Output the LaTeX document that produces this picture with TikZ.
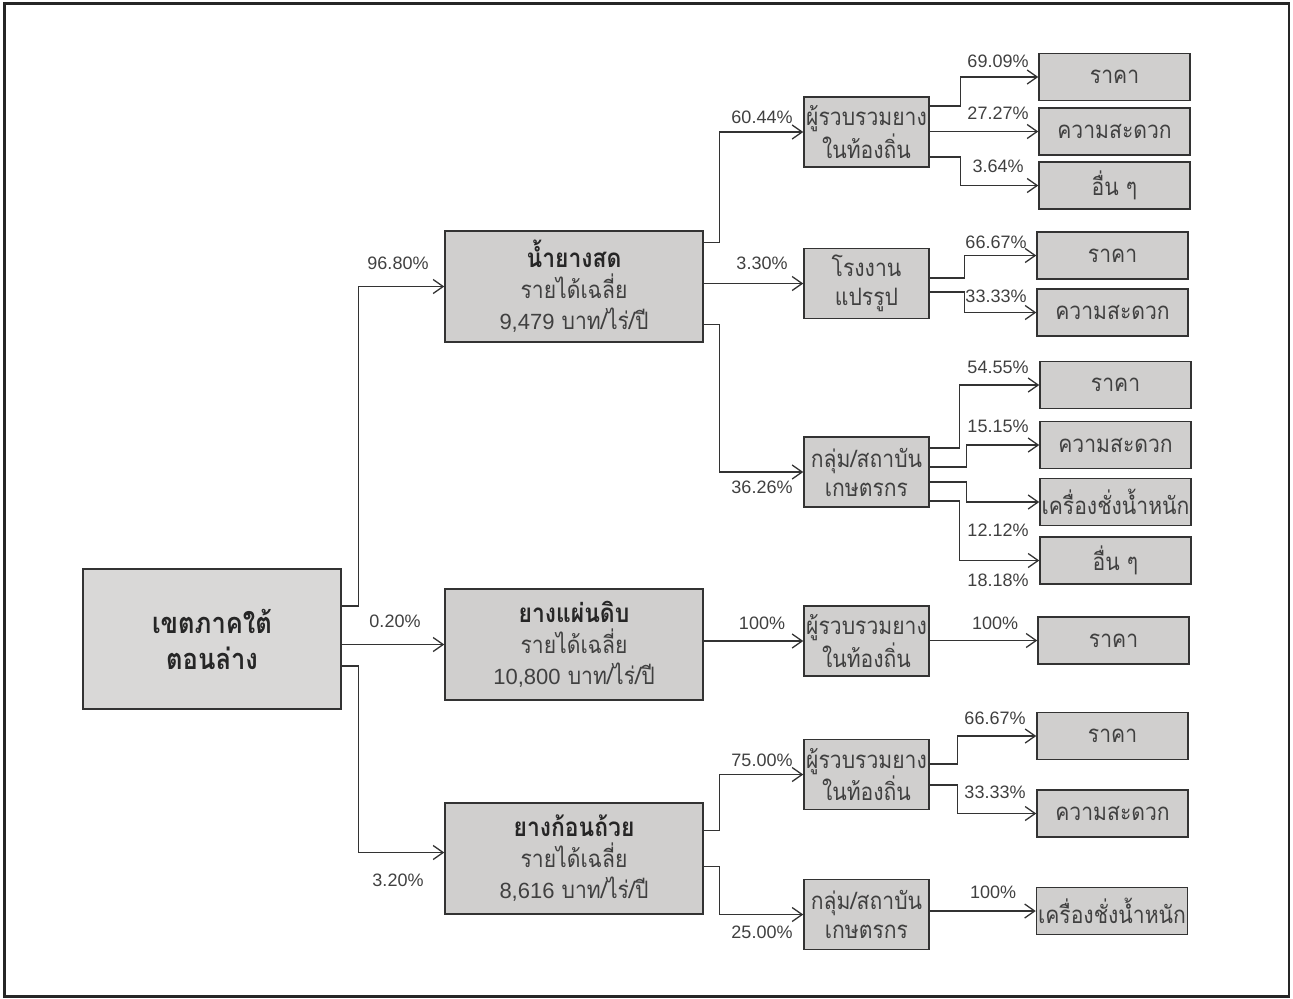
\documentclass[tikz,border=0pt]{standalone}
\usepackage{fontspec}
\setmainfont{Liberation Sans}
\newfontfamily\thaifont[Script=Thai,FakeStretch=0.88]{Loma}
\usetikzlibrary{arrows.meta}
\definecolor{boxfill}{RGB}{208,207,206}
\definecolor{rootfill}{RGB}{217,216,215}
\definecolor{linegray}{RGB}{51,51,51}
\definecolor{textgray}{RGB}{64,64,64}

\begin{document}
\begin{tikzpicture}[
	x=0.5pt, y=-0.5pt,
	box/.style={rectangle, draw=linegray, line width=0.75pt, fill=boxfill, text=textgray, inner sep=0pt, align=center, font=\thaifont\fontsize{12}{15.5}\selectfont},
	rootnode/.style={box, fill=rootfill, minimum width=129pt, minimum height=70pt, text=black!85, font=\thaifont\bfseries\fontsize{14.5}{18}\selectfont},
	typenode/.style={box, minimum width=129pt, minimum height=55.5pt},
	buyernode/.style={box, minimum width=62.5pt, minimum height=35pt, font=\thaifont\fontsize{12}{14.5}\selectfont},
	reasonnode/.style={box, minimum width=75.5pt, minimum height=23.5pt},
	pct/.style={text=textgray, inner sep=0pt, font=\fontsize{9}{11}\selectfont},
	flow/.style={draw=linegray, line width=0.65pt, -{Straight Barb[length=5pt,width=7pt]}},
	]
	\useasboundingbox (0,0) rectangle (1293,998);
	\draw[line width=1.25pt, draw=black!85] (4.5,3.5) rectangle (1289,996.5);

	%Nodes
	\node[rootnode]   (root)  at (212,639)     {เขตภาคใต้\\ตอนล่าง};
	\node[typenode]   (latex) at (574,286.5)   {{\bfseries\fontsize{13}{15.5}\selectfont\color{black!85}น้ำยางสด}\\รายได้เฉลี่ย\\{\rmfamily\fontsize{11}{15.5}\selectfont 9,479} บาท/ไร่/ปี};
	\node[typenode]   (sheet) at (574,644.5)   {{\bfseries\fontsize{13}{15.5}\selectfont\color{black!85}ยางแผ่นดิบ}\\รายได้เฉลี่ย\\{\rmfamily\fontsize{11}{15.5}\selectfont 10,800} บาท/ไร่/ปี};
	\node[typenode]   (cup)   at (574,858.5)   {{\bfseries\fontsize{13}{15.5}\selectfont\color{black!85}ยางก้อนถ้วย}\\รายได้เฉลี่ย\\{\rmfamily\fontsize{11}{15.5}\selectfont 8,616} บาท/ไร่/ปี};

	\node[buyernode]  (A1)    at (866.5,132)   {ผู้รวบรวมยาง\\ในท้องถิ่น};
	\node[buyernode]  (A2)    at (866.5,283.5) {โรงงาน\\แปรรูป};
	\node[buyernode]  (A3)    at (866.5,472)   {กลุ่ม/สถาบัน\\เกษตรกร};
	\node[buyernode]  (B1)    at (866.5,641)   {ผู้รวบรวมยาง\\ในท้องถิ่น};
	\node[buyernode]  (C1)    at (866.5,774.5) {ผู้รวบรวมยาง\\ในท้องถิ่น};
	\node[buyernode]  (C2)    at (866.5,914.5) {กลุ่ม/สถาบัน\\เกษตรกร};

	\node[reasonnode] (a1a)   at (1114.5,77)   {ราคา};
	\node[reasonnode] (a1b)   at (1114.5,131.5) {ความสะดวก};
	\node[reasonnode] (a1c)   at (1114.5,185.5) {อื่น ๆ};
	\node[reasonnode] (a2a)   at (1112.5,255.5) {ราคา};
	\node[reasonnode] (a2b)   at (1112.5,312.5) {ความสะดวก};
	\node[reasonnode] (a3a)   at (1115.5,385)  {ราคา};
	\node[reasonnode] (a3b)   at (1115.5,445)  {ความสะดวก};
	\node[reasonnode] (a3c)   at (1115.5,502)  {เครื่องชั่งน้ำหนัก};
	\node[reasonnode] (a3d)   at (1115.5,560.5) {อื่น ๆ};
	\node[reasonnode] (b1a)   at (1113.5,640.5) {ราคา};
	\node[reasonnode] (c1a)   at (1112.5,736)  {ราคา};
	\node[reasonnode] (c1b)   at (1112.5,813.5) {ความสะดวก};
	\node[reasonnode] (c2a)   at (1112,911)    {เครื่องชั่งน้ำหนัก};

	%Labels
	\node[pct] (p1)  at (398,263) {96.80\%};
	\node[pct] (p2)  at (395,621) {0.20\%};
	\node[pct] (p3)  at (398,880) {3.20\%};
	\node[pct] (p4)  at (762,117) {60.44\%};
	\node[pct] (p5)  at (762,263) {3.30\%};
	\node[pct] (p6)  at (762,487) {36.26\%};
	\node[pct] (p7)  at (762,623) {100\%};
	\node[pct] (p8)  at (762,760) {75.00\%};
	\node[pct] (p9)  at (762,932) {25.00\%};
	\node[pct] (p10) at (998,61)  {69.09\%};
	\node[pct] (p11) at (998,113) {27.27\%};
	\node[pct] (p12) at (998,166) {3.64\%};
	\node[pct] (p13) at (996,242) {66.67\%};
	\node[pct] (p14) at (996,296) {33.33\%};
	\node[pct] (p15) at (998,367) {54.55\%};
	\node[pct] (p16) at (998,426) {15.15\%};
	\node[pct] (p17) at (998,530) {12.12\%};
	\node[pct] (p18) at (998,580) {18.18\%};
	\node[pct] (p19) at (995,623) {100\%};
	\node[pct] (p20) at (995,718) {66.67\%};
	\node[pct] (p21) at (995,792) {33.33\%};
	\node[pct] (p22) at (993,892) {100\%};

	%Lines
	\draw[flow] ([yshift=16.5pt]root.east) -- ++(17,0) |- (latex.west);
	\draw[flow] (root.east |- sheet.west) -- (sheet.west);
	\draw[flow] ([yshift=-13.5pt]root.east) -- ++(17,0) |- ([yshift=3pt]cup.west);

	\draw[flow] ([yshift=22pt]latex.east) -- ++(16,0) |- (A1.west);
	\draw[flow] (latex.east |- A2.west) -- (A2.west);
	\draw[flow] ([yshift=-19pt]latex.east) -- ++(16,0) |- (A3.west);
	\draw[flow] (sheet.east |- B1.west) -- (B1.west);
	\draw[flow] ([yshift=14pt]cup.east) -- ++(16,0) |- (C1.west);
	\draw[flow] ([yshift=-4pt]cup.east) -- ++(16,0) |- (C2.west);

	\draw[flow] ([yshift=13pt]A1.east) -- ++(31,0) |- (a1a.west);
	\draw[flow] (A1.east |- a1b.west) -- (a1b.west);
	\draw[flow] ([yshift=-12.5pt]A1.east) -- ++(31,0) |- (a1c.west);
	\draw[flow] ([yshift=2.75pt]A2.east) -- ++(35,0) |- (a2a.west);
	\draw[flow] ([yshift=-4.25pt]A2.east) -- ++(35,0) |- (a2b.west);
	\draw[flow] ([yshift=12pt]A3.east) -- ++(30,0) |- (a3a.west);
	\draw[flow] ([yshift=2.5pt]A3.east) -- ++(37,0) |- (a3b.west);
	\draw[flow] ([yshift=-5pt]A3.east) -- ++(37,0) |- (a3c.west);
	\draw[flow] ([yshift=-14.5pt]A3.east) -- ++(30,0) |- (a3d.west);
	\draw[flow] (B1.east |- b1a.west) -- (b1a.west);
	\draw[flow] ([yshift=5.25pt]C1.east) -- ++(28,0) |- (c1a.west);
	\draw[flow] ([yshift=-5.25pt]C1.east) -- ++(28,0) |- (c1b.west);
	\draw[flow] (C2.east |- c2a.west) -- (c2a.west);
\end{tikzpicture}
\end{document}
